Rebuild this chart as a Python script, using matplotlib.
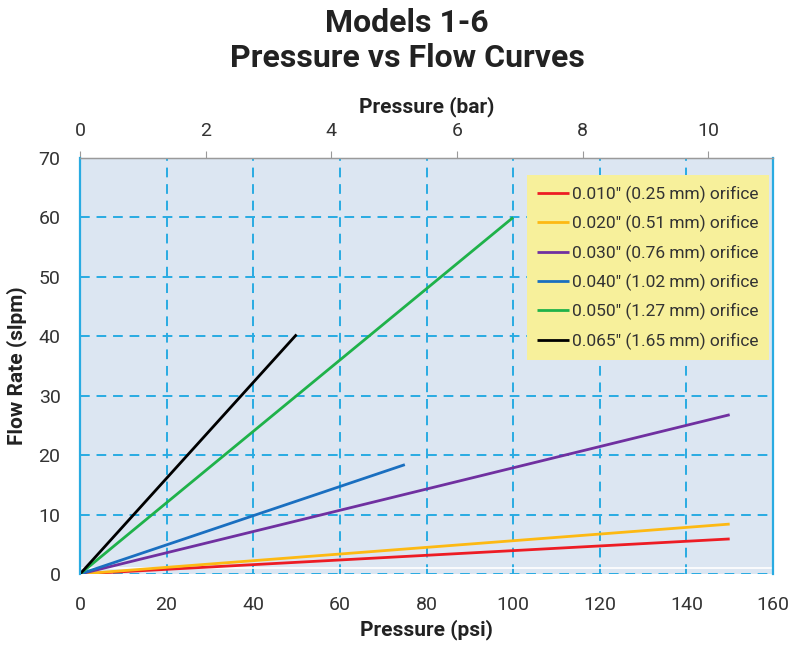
import numpy as np
import matplotlib
matplotlib.use('Agg')
import matplotlib.pyplot as plt

plt.rcParams['font.family'] = ['Roboto', 'DejaVu Sans']

# data (psi, slpm)
labels = ['0.010" (0.25 mm) orifice', '0.020" (0.51 mm) orifice',
          '0.030" (0.76 mm) orifice', '0.040" (1.02 mm) orifice',
          '0.050" (1.27 mm) orifice', '0.065" (1.65 mm) orifice']
colors = ['#ed1c24', '#fdb913', '#7030a0', '#1a6fc0', '#1fb24a', '#000000']
psi_010 = [0, 150]
flow_010 = [0, 5.9]
psi_020 = [0, 150]
flow_020 = [0, 8.4]
psi_030 = [0, 150]
flow_030 = [0, 26.8]
psi_040 = [0, 75]
flow_040 = [0, 18.4]
psi_050 = [0, 100]
flow_050 = [0, 60]
psi_065 = [0, 50]
flow_065 = [0, 40.3]

x_ticks = np.arange(0, 161, 20)
y_ticks = np.arange(0, 71, 10)
bar_ticks = np.arange(0, 11, 2)
PSI_PER_BAR = 14.5038

grid_c = '#29abe2'
txt_c = '#333333'

fig = plt.figure(figsize=(7.93, 6.48), dpi=100)
ax = fig.add_axes([80/793, 74/648, 693/793, 416/648])
ax.set_facecolor('#dce6f2')

series = [(psi_010, flow_010), (psi_020, flow_020), (psi_030, flow_030),
          (psi_040, flow_040), (psi_050, flow_050), (psi_065, flow_065)]
for (p, f), lab, c in zip(series, labels, colors):
    ax.plot(p, f, color=c, lw=2, label=lab, solid_capstyle='butt')

ax.axhline(1.0, color='white', lw=1.2, zorder=1)

ax.set_xlim(0, 160)
ax.set_ylim(0, 70)
ax.set_xticks(x_ticks)
ax.set_yticks(y_ticks)
ax.grid(True, color=grid_c, ls=(0, (5, 3.5)), lw=1.4)
ax.set_axisbelow(True)
ax.tick_params(length=0, labelsize=14, labelcolor=txt_c)
ax.tick_params(axis='x', pad=16)
ax.tick_params(axis='y', pad=14)

for s in ['left', 'right']:
    ax.spines[s].set_color(grid_c)
    ax.spines[s].set_linewidth(1.6)
ax.spines['bottom'].set_visible(False)
ax.spines['top'].set_color('#9a9a9a')
ax.spines['top'].set_linewidth(1.0)

ax.set_xlabel('Pressure (psi)', fontsize=15, fontweight='bold', color='#222222', labelpad=4)
ax.set_ylabel('Flow Rate (slpm)', fontsize=15, fontweight='bold', color='#222222', labelpad=8)

top = ax.secondary_xaxis('top', functions=(lambda x: x / PSI_PER_BAR, lambda b: b * PSI_PER_BAR))
top.set_xticks(bar_ticks)
top.tick_params(length=5, color='#9a9a9a', labelsize=14, labelcolor=txt_c, pad=8)
top.spines['top'].set_color('#9a9a9a')
top.set_xlabel('Pressure (bar)', fontsize=15, fontweight='bold', color='#222222', labelpad=7)

leg = ax.legend(loc='upper right', bbox_to_anchor=(1 - 4/693, 1 - 17/416), borderaxespad=0,
                fontsize=12.5, facecolor='#f7f09b', edgecolor='none', framealpha=1,
                fancybox=False, handlelength=1.8, handletextpad=0.2, labelspacing=0.7,
                borderpad=0.6)
for t in leg.get_texts():
    t.set_color(txt_c)

fig.text(407/793, 1 - 23/648, 'Models 1-6', ha='center', va='center',
         fontsize=23, fontweight='bold', color='#222222')
fig.text(407/793, 1 - 58/648, 'Pressure vs Flow Curves', ha='center', va='center',
         fontsize=23, fontweight='bold', color='#222222')

fig.savefig('out.png', dpi=100)
